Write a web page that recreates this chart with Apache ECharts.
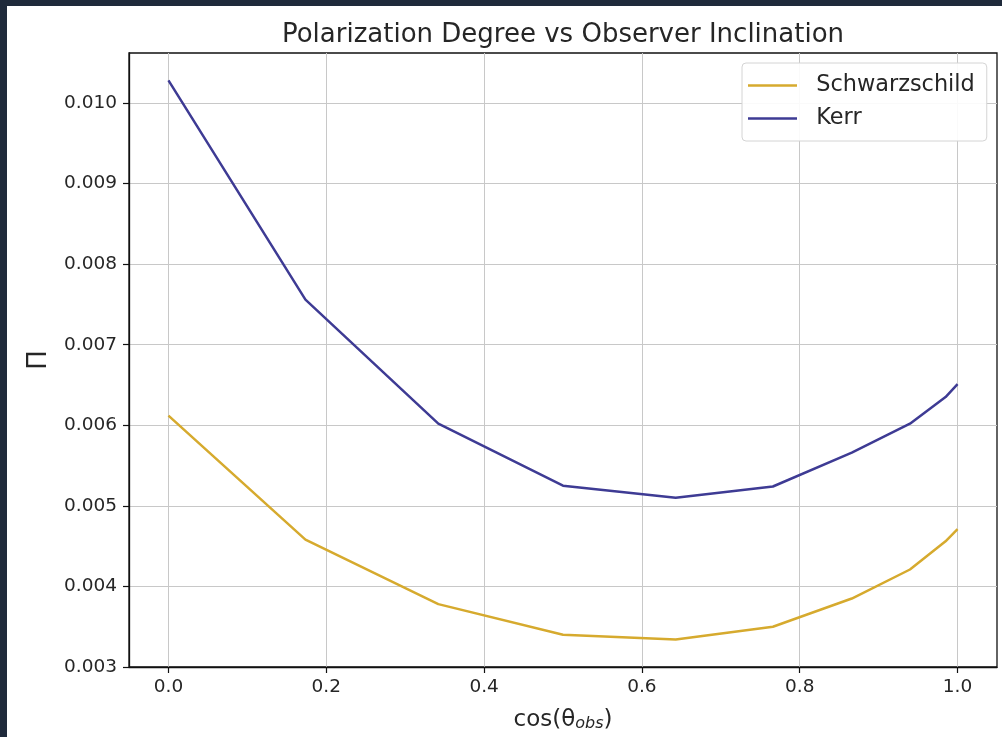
<!DOCTYPE html>
<html>
<head>
<meta charset="utf-8">
<script src="https://cdn.jsdelivr.net/npm/echarts@6/dist/echarts.min.js"></script>
<style>
  html, body { margin: 0; padding: 0; width: 1002px; height: 737px; background: #1f2a3b; overflow: hidden; }
  #chart { position: absolute; left: 7px; top: 6px; width: 995px; height: 731px; background: #ffffff; }
</style>
</head>
<body>
<div id="chart"></div>
<script>
// cos(theta_obs) sample positions
const cosTheta = [0.0, 0.1736, 0.3420, 0.5, 0.6428, 0.7660, 0.8660, 0.9397, 0.9848, 1.0];
// polarization degree values
const schwarzschild = [0.00612, 0.00458, 0.00378, 0.00340, 0.00334, 0.00350, 0.00385, 0.00421, 0.00456, 0.00471];
const kerr = [0.01028, 0.00756, 0.00602, 0.00525, 0.00510, 0.00524, 0.00566, 0.00602, 0.00635, 0.00651];
// tick labels
const xTicks = [0.0, 0.2, 0.4, 0.6, 0.8, 1.0];
const yTicks = [0.003, 0.004, 0.005, 0.006, 0.007, 0.008, 0.009, 0.010];
const seriesNames = ['Schwarzschild', 'Kerr'];
const titleText = 'Polarization Degree vs Observer Inclination';

const FONT = 'DejaVu Sans';
const TXT = '#262626';
const COLORS = ['#d6aa2e', '#3e3b94'];

const chart = echarts.init(document.getElementById('chart'), null, { renderer: 'canvas' });

function pairs(xs, ys) { return xs.map((x, i) => [x, ys[i]]); }

const option = {
  animation: false,
  backgroundColor: '#ffffff',
  textStyle: { fontFamily: FONT, color: TXT },
  title: {
    text: titleText,
    left: 551,
    textAlign: 'center',
    top: 11,
    textStyle: { fontFamily: FONT, fontSize: 26, fontWeight: 'normal', color: TXT }
  },
  legend: {
    orient: 'vertical',
    left: 735,
    top: 57,
    padding: [10, 12, 10, 6],
    itemWidth: 49,
    itemHeight: 2.5,
    itemGap: 8,
    icon: 'rect',
    backgroundColor: 'rgba(255,255,255,0.9)',
    borderColor: '#d4d4d4',
    borderWidth: 1,
    borderRadius: 4,
    formatter: name => '  ' + name,
    textStyle: { fontFamily: FONT, fontSize: 22.4, color: TXT, lineHeight: 25 },
    data: seriesNames
  },
  grid: {
    left: 122, right: 5, top: 47, bottom: 65,
    show: true, borderColor: '#111', borderWidth: 1.3, backgroundColor: 'transparent'
  },
  xAxis: {
    type: 'value',
    min: -0.05, max: 1.05,
    splitNumber: 5,
    name: '{n|cos(θ}{s|obs}{n|)}',
    nameLocation: 'middle',
    nameGap: 37,
    nameTextStyle: {
      rich: {
        n: { fontFamily: FONT, fontSize: 23, color: TXT, lineHeight: 28, verticalAlign: 'bottom' },
        s: { fontFamily: FONT, fontSize: 16, fontStyle: 'italic', color: TXT, lineHeight: 16, verticalAlign: 'bottom' }
      }
    },
    axisLine: { show: true, onZero: false, lineStyle: { color: '#111', width: 1.3 } },
    axisTick: { show: true, length: 6, customValues: xTicks, lineStyle: { color: '#111', width: 1.2 } },
    axisLabel: {
      customValues: xTicks, margin: 11, fontFamily: FONT, fontSize: 18.5, color: TXT,
      formatter: v => v.toFixed(1)
    },
    splitLine: { show: true, lineStyle: { color: '#c8c8c8', width: 1 } }
  },
  yAxis: {
    type: 'value',
    min: 0.003, max: 0.01062,
    splitNumber: 7,
    name: 'Π',
    nameLocation: 'middle',
    nameGap: 77,
    nameRotate: 90,
    nameTextStyle: { fontFamily: FONT, fontSize: 26, color: TXT },
    axisLine: { show: true, onZero: false, lineStyle: { color: '#111', width: 1.3 } },
    axisTick: { show: true, length: 6, customValues: yTicks, lineStyle: { color: '#111', width: 1.2 } },
    axisLabel: {
      customValues: yTicks, margin: 12, fontFamily: FONT, fontSize: 18.5, color: TXT,
      formatter: v => v.toFixed(3)
    },
    splitLine: { show: true, lineStyle: { color: '#c8c8c8', width: 1 } }
  },
  series: [
    {
      name: seriesNames[0], type: 'line', data: pairs(cosTheta, schwarzschild),
      symbol: 'none', smooth: false,
      lineStyle: { color: COLORS[0], width: 2.5 }, itemStyle: { color: COLORS[0] }
    },
    {
      name: seriesNames[1], type: 'line', data: pairs(cosTheta, kerr),
      symbol: 'none', smooth: false,
      lineStyle: { color: COLORS[1], width: 2.5 }, itemStyle: { color: COLORS[1] }
    }
  ]
};
chart.setOption(option);
</script>
</body>
</html>
